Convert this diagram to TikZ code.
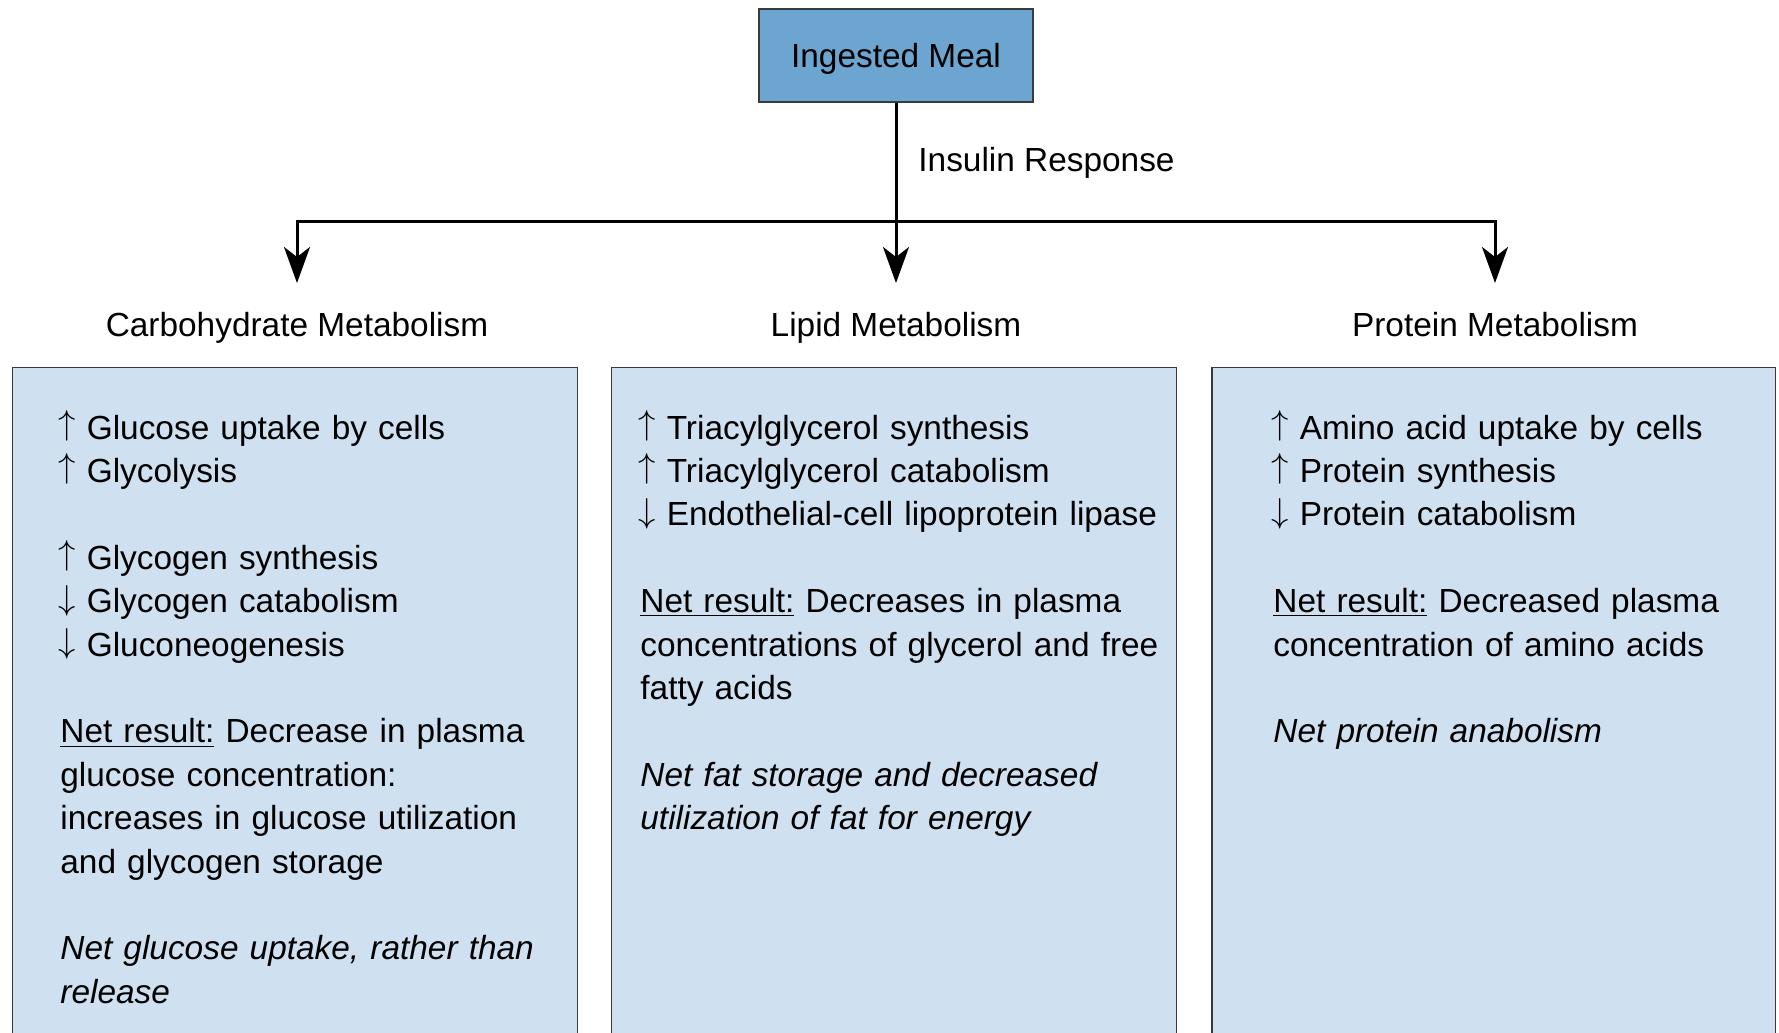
\documentclass[tikz,border=0pt]{standalone}
\usepackage{fontspec}
\setmainfont{Liberation Sans}
\usetikzlibrary{arrows.meta}
\definecolor{mealblue}{HTML}{6BA5D0}
\definecolor{boxblue}{HTML}{CFE0F0}
\definecolor{edgegray}{HTML}{3A3A3A}
\newcommand{\incr}{\raisebox{0.14em}{$\uparrow$}}
\newcommand{\decr}{\raisebox{0.1em}{$\downarrow$}}

\begin{document}
\begin{tikzpicture}[x=0.5pt,y=-0.5pt,
  every node/.style={font=\fontsize{16.7pt}{21.7pt}\selectfont, inner sep=0pt},
  mealbox/.style={draw=edgegray, line width=0.8pt, fill=mealblue, minimum width=137pt, minimum height=46.5pt, text height=12pt, text depth=0pt},
  infobox/.style={draw=edgegray, line width=0.8pt, fill=boxblue},
  boxtext/.style={anchor=base west, text width=280pt, align=left},
  flow/.style={line width=1.5pt, -{Stealth[length=18pt,width=13pt,inset=5pt]}}
]
\useasboundingbox (0,0) rectangle (1779,1033);

\begin{scope}
\clip (0,0) rectangle (1779,1033);
\draw [infobox] (12.5,367.5) rectangle (577.5,1060);
\draw [infobox] (611.5,367.5) rectangle (1176.5,1060);
\draw [infobox] (1212,367.5) rectangle (1775.5,1060);
\end{scope}

\node [mealbox] (meal) at (896,55.5) {Ingested Meal};
\node [anchor=base west] (insulin) at (918,171) {Insulin Response};

\node [anchor=base] (carb) at (297,336) {Carbohydrate Metabolism};
\node [anchor=base] (lipid) at (896,336) {Lipid Metabolism};
\node [anchor=base] (protein) at (1495,336) {Protein Metabolism};

\coordinate (split) at (896,221);
\coordinate (carbtip) at (297,283);
\coordinate (lipidtip) at (896,283);
\coordinate (proteintip) at (1495,283);

\draw [flow] (meal.south) -- (lipidtip);
\draw [flow] (split) -| (carbtip);
\draw [flow] (split) -| (proteintip);

\node [boxtext] (carbtext) at (58,439) {%
\incr{} Glucose uptake by cells\\
\incr{} Glycolysis\\[21.7pt]
\incr{} Glycogen synthesis\\
\decr{} Glycogen catabolism\\
\decr{} Gluconeogenesis\\[21.7pt]
\hspace{1pt}\underline{Net result:} Decrease in plasma\\
\hspace{1pt}glucose concentration:\\
\hspace{1pt}increases in glucose utilization\\
\hspace{1pt}and glycogen storage\\[21.7pt]
\hspace{1pt}\textit{Net glucose uptake, rather than}\\
\hspace{1pt}\textit{release}};

\node [boxtext] (lipidtext) at (638,439) {%
\incr{} Triacylglycerol synthesis\\
\incr{} Triacylglycerol catabolism\\
\decr{} Endothelial-cell lipoprotein lipase\\[21.7pt]
\hspace{1pt}\underline{Net result:} Decreases in plasma\\
\hspace{1pt}concentrations of glycerol and free\\
\hspace{1pt}fatty acids\\[21.7pt]
\hspace{1pt}\textit{Net fat storage and decreased}\\
\hspace{1pt}\textit{utilization of fat for energy}};

\node [boxtext] (proteintext) at (1271,439) {%
\incr{} Amino acid uptake by cells\\
\incr{} Protein synthesis\\
\decr{} Protein catabolism\\[21.7pt]
\hspace{1pt}\underline{Net result:} Decreased plasma\\
\hspace{1pt}concentration of amino acids\\[21.7pt]
\hspace{1pt}\textit{Net protein anabolism}};

\end{tikzpicture}
\end{document}
